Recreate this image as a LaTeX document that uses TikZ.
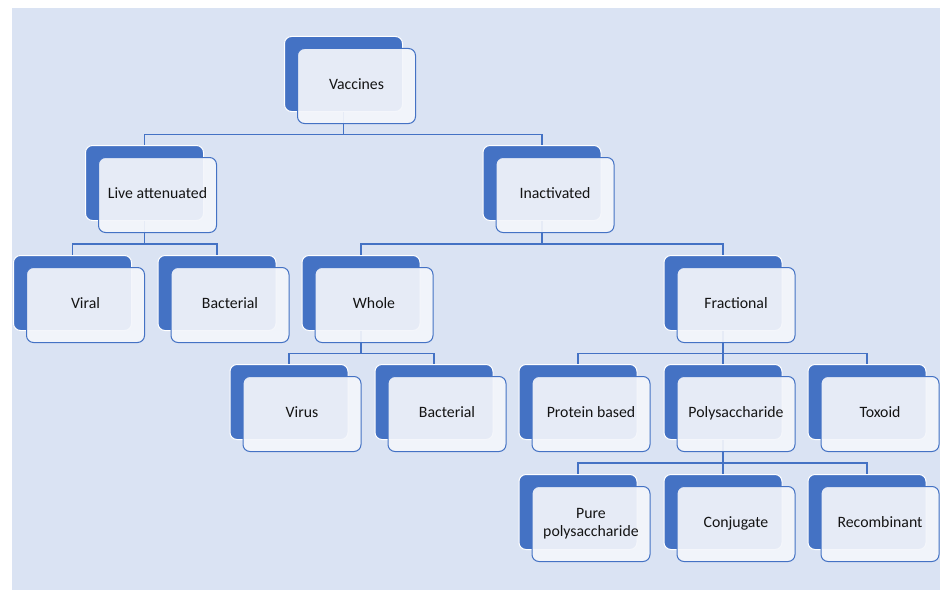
\documentclass[tikz,border=0pt]{standalone}
\usepackage{fontspec}
\setmainfont{Carlito}
\definecolor{bgblue}{RGB}{218,227,243}
\definecolor{darkblue}{RGB}{68,114,196}
\definecolor{frontfill}{RGB}{244,246,251}
\definecolor{txtcol}{RGB}{20,20,20}
\newcommand{\boxstrut}{\rule[-4.5pt]{0pt}{16pt}}

\begin{document}
\begin{tikzpicture}[
    x=1pt, y=-1pt,
    backbox/.style={rectangle, rounded corners=7pt, fill=darkblue, draw=white,
        line width=1pt, minimum width=118pt, minimum height=75pt},
    frontbox/.style={rectangle, rounded corners=7pt, fill=frontfill, fill opacity=0.92,
        text opacity=1, draw=darkblue, line width=1pt, minimum width=118pt,
        minimum height=75pt, align=center, text=txtcol,
        font=\fontsize{15.8}{18}\selectfont},
    conn/.style={draw=darkblue, line width=1.2pt}
]
\useasboundingbox (0,0) rectangle (940,602);
\fill[white] (0,0) rectangle (940,602);
\fill[bgblue] (12,8) rectangle (940,590);

% Back boxes
\foreach \n/\x/\y in {vac/356.5/86, live/157.5/195, inact/555/195,
    viral/85.5/305, bactL/230/305, whole/374/305, frac/736/305,
    virus/302/414, bactW/447/414, prot/591/414, poly/736/414, tox/880/414,
    pure/591/524, conj/736/524, recomb/880/524} {
    \node[backbox] (\n B) at (\x-13,\y-12) {};
}

% Bus levels
\coordinate (bus1) at (0,134.5);
\coordinate (bus2) at (0,244);
\coordinate (bus3) at (0,353.5);
\coordinate (bus4) at (0,463);

% Connections
\foreach \p/\c/\b in {vac/live/1, vac/inact/1, live/viral/2, live/bactL/2,
    inact/whole/2, inact/frac/2, whole/virus/3, whole/bactW/3,
    frac/prot/3, frac/poly/3, frac/tox/3, poly/pure/4, poly/conj/4,
    poly/recomb/4} {
    \draw[conn] (\p B.south) -- (\p B.south |- bus\b) -| (\c B.north);
}

% Front boxes
\foreach \n/\x/\y/\t in {vac/356.5/86/Vaccines, live/157.5/195/Live attenuated,
    inact/555/195/Inactivated, viral/85.5/305/Viral, bactL/230/305/Bacterial,
    whole/374/305/Whole, frac/736/305/Fractional, virus/302/414/Virus,
    bactW/447/414/Bacterial, prot/591/414/Protein based,
    poly/736/414/Polysaccharide, tox/880/414/Toxoid,
    pure/591/524/{\boxstrut Pure\\\boxstrut polysaccharide}, conj/736/524/Conjugate,
    recomb/880/524/Recombinant} {
    \node[frontbox] (\n) at (\x,\y) {\boxstrut\t};
}
\end{tikzpicture}
\end{document}
